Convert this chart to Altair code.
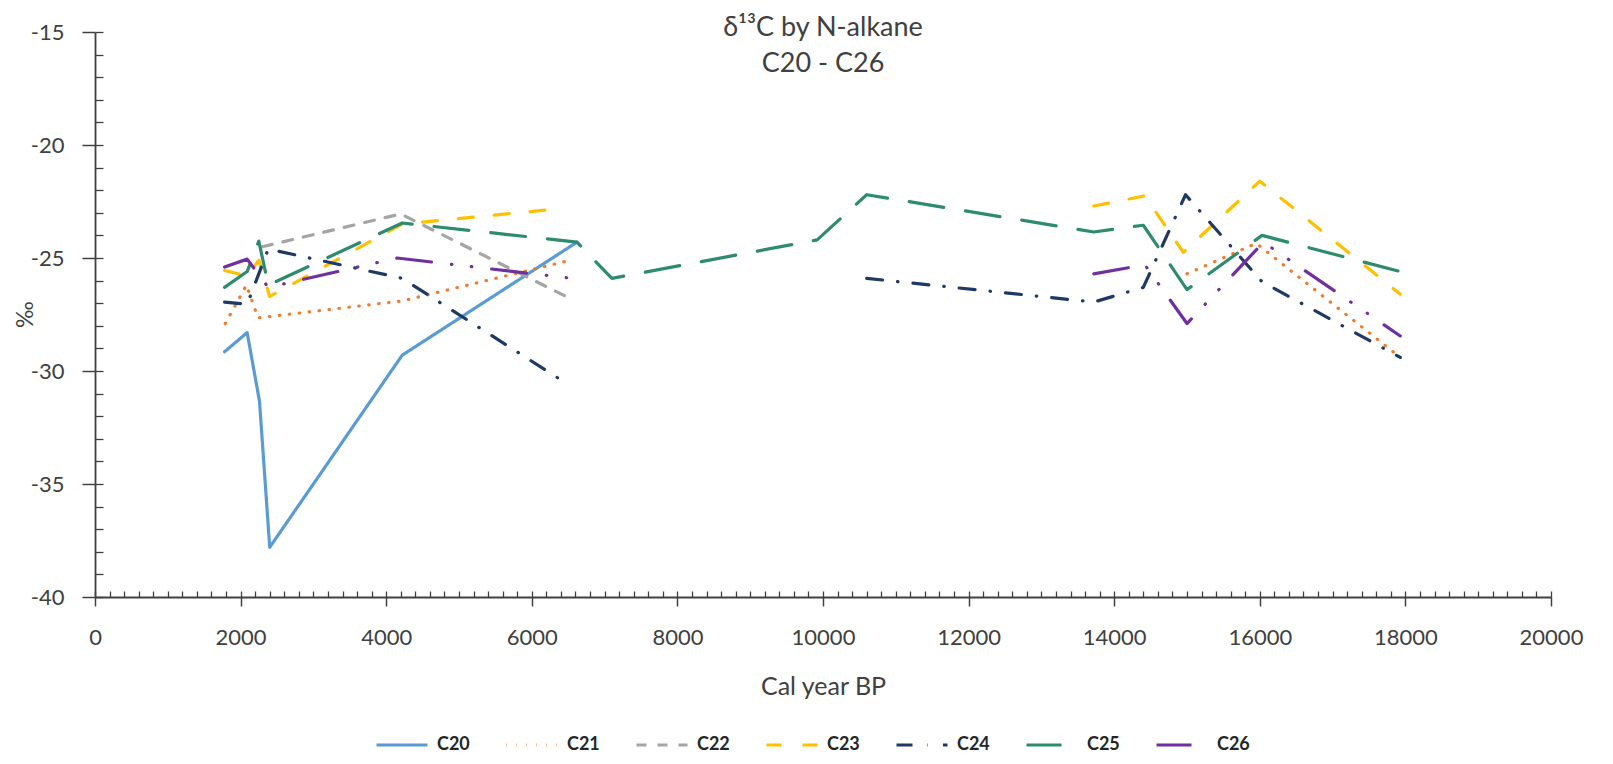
import altair as alt
import pandas as pd

SERIES = ["C20", "C21", "C22", "C23", "C24", "C25", "C26"]
COLORS = ["#5B9BD5", "#ED7D31", "#A5A5A5", "#FFC000", "#1F3864", "#2E8B6F", "#7030A0"]
DASHES = [[1, 0], [0.5, 9.5], [10, 11], [15, 21], [16, 15, 0.5, 15], [35, 22], [35, 20, 0.5, 19.5, 0.5, 20]]

# C20
c20_year = [1780, 2090, 2260, 2400, 4220, 6620]
c20_val = [-29.15, -28.3, -31.35, -37.8, -29.3, -24.3]
# C21
c21a_year = [1790, 2080, 2240, 4220, 6530]
c21a_val = [-27.9, -26.2, -27.65, -26.9, -25.1]
c21b_year = [15000, 15950, 17930]
c21b_val = [-25.7, -24.35, -29.4]
# C22
c22_year = [2300, 4200, 6500]
c22_val = [-24.5, -23.05, -26.75]
# C23
c23a_year = [1780, 2090, 2250, 2400, 4220, 6450]
c23a_val = [-25.55, -25.8, -25.1, -26.7, -23.5, -22.8]
c23b_year = [13720, 14420, 14950, 16000, 17930]
c23b_val = [-22.7, -22.25, -24.75, -21.6, -26.6]
# C24
c24a_year = [1780, 2090, 2380, 4220, 6500]
c24a_val = [-26.95, -27.05, -24.6, -25.9, -30.6]
c24b_year = [10600, 13720, 14400, 14980, 16030, 17930]
c24b_val = [-25.9, -26.95, -26.3, -22.2, -26.05, -29.4]
# C25
c25_year = [1780, 2090, 2250, 2380, 4220, 6620, 7100, 9920, 10600, 13720, 14400, 15000, 16030, 17930]
c25_val = [-26.3, -25.6, -24.25, -26.2, -23.45, -24.3, -25.9, -24.2, -22.2, -23.85, -23.55, -26.4, -24.0, -25.6]
# C26
c26a_year = [1780, 2090, 2380, 4150, 6550]
c26a_val = [-25.4, -25.05, -26.3, -25.0, -25.9]
c26b_year = [13720, 14420, 15000, 16050, 17930]
c26b_val = [-25.7, -25.3, -27.9, -24.3, -28.45]

segments = [
    ("C20", "a", c20_year, c20_val),
    ("C21", "a", c21a_year, c21a_val),
    ("C21", "b", c21b_year, c21b_val),
    ("C22", "a", c22_year, c22_val),
    ("C23", "a", c23a_year, c23a_val),
    ("C23", "b", c23b_year, c23b_val),
    ("C24", "a", c24a_year, c24a_val),
    ("C24", "b", c24b_year, c24b_val),
    ("C25", "a", c25_year, c25_val),
    ("C26", "a", c26a_year, c26a_val),
    ("C26", "b", c26b_year, c26b_val),
]

rows = []
for s, part, ys, vs in segments:
    for i, (yr, v) in enumerate(zip(ys, vs)):
        rows.append({"series": s, "part": s + part, "order": i, "year": yr, "value": v})
df = pd.DataFrame(rows)

FONT = "Lato"
TXT = "#404040"
AX = "#404040"

x_scale = alt.Scale(domain=[0, 20000], nice=False, zero=False)
y_scale = alt.Scale(domain=[-40, -15], nice=False, zero=False)

main = alt.Chart(df).mark_line(strokeWidth=3.2, strokeCap="round", strokeJoin="round").encode(
    x=alt.X("year:Q", scale=x_scale,
            axis=alt.Axis(values=list(range(0, 20001, 2000)), format="d", title="Cal year BP",
                          grid=False, tickSize=9, tickWidth=1.5, tickColor=AX,
                          domainColor=AX, domainWidth=1.8, labelFont=FONT, labelFontSize=22,
                          labelColor=TXT, labelPadding=21, labelFlush=False,
                          titleFont=FONT, titleFontSize=25, titleFontWeight="normal",
                          titleColor=TXT, titlePadding=26)),
    y=alt.Y("value:Q", scale=y_scale,
            axis=alt.Axis(values=list(range(-40, -14, 5)), labelExpr="'' + datum.value", title="‰",
                          grid=False, tickSize=13, tickWidth=1.5, tickColor=AX,
                          domainColor=AX, domainWidth=1.8, labelFont=FONT, labelFontSize=22,
                          labelColor=TXT, labelPadding=18,
                          titleFont=FONT, titleFontSize=23, titleFontWeight="normal",
                          titleColor=TXT, titleX=-70, titleY=282, titleAlign="center",
                          titleBaseline="middle", titleAngle=270)),
    color=alt.Color("series:N", title=None,
                    scale=alt.Scale(domain=SERIES, range=COLORS),
                    legend=alt.Legend(orient="none", legendX=280, legendY=686, direction="horizontal",
                                      columns=7, symbolType="stroke", symbolSize=2600,
                                      symbolStrokeWidth=3, labelFont=FONT, labelFontSize=18,
                                      labelFontWeight="bold", labelColor="#262626",
                                      labelOffset=8, columnPadding=30)),
    strokeDash=alt.StrokeDash("series:N", title=None,
                              scale=alt.Scale(domain=SERIES, range=DASHES)),
    detail="part:N",
    order="order:Q",
)

minor = alt.Chart(df).mark_line(opacity=0).encode(
    x=alt.X("year:Q", scale=x_scale,
            axis=alt.Axis(orient="bottom", values=list(range(0, 20001, 200)), labels=False, title=None,
                          domain=False, grid=False, tickSize=6, tickWidth=1.3, tickColor=AX,
                          offset=-6)),
    y=alt.Y("value:Q", scale=y_scale,
            axis=alt.Axis(orient="left", values=list(range(-40, -14)), labels=False, title=None,
                          domain=False, grid=False, tickSize=8, tickWidth=1.3, tickColor=AX,
                          offset=-8)),
    detail="part:N",
)

chart = alt.layer(main, minor).resolve_axis(x="independent", y="independent").properties(
    width=1456,
    height=565,
    padding={"left": 87, "top": 24, "right": 54, "bottom": 159},
    autosize="none",
    title=alt.TitleParams(text=["δ¹³C by N-alkane", "C20 - C26"], font=FONT, fontSize=27,
                          fontWeight="normal", color=TXT, anchor="middle", baseline="alphabetic",
                          lineHeight=36, offset=0, dy=78),
    background="white",
).configure_view(stroke=None)

chart.save("out.html", embed_options={"renderer": "svg", "actions": False})
